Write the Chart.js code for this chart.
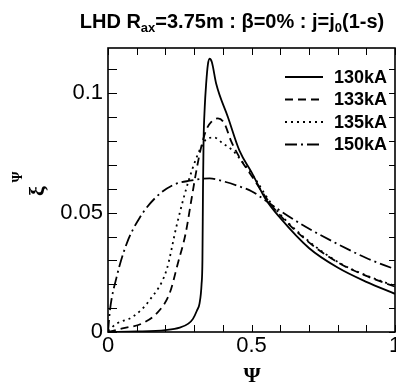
<!DOCTYPE html>
<html>
<head>
<meta charset="utf-8">
<script src="https://cdn.jsdelivr.net/npm/chart.js@4.4.1/dist/chart.umd.min.js"></script>
<style>
  html, body { margin: 0; padding: 0; background: #fff; }
  #wrap { width: 396px; height: 387px; }
</style>
</head>
<body>
<div id="wrap"><canvas id="myChart" width="396" height="387"></canvas></div>
<script>
// Werte
const seriesLabels = ["130kA", "133kA", "135kA", "150kA"];

const psi130 = [0, 0.1, 0.2, 0.25, 0.28, 0.296, 0.31, 0.319, 0.326, 0.329, 0.331, 0.333, 0.337, 0.342, 0.348, 0.354, 0.362, 0.377, 0.418, 0.458, 0.5, 0.55, 0.6, 0.7, 0.8, 0.9, 1.0];
const xi130 = [0, 0.0002, 0.0008, 0.0018, 0.0035, 0.0055, 0.009, 0.012, 0.02, 0.03, 0.06, 0.08, 0.094, 0.104, 0.112, 0.1145, 0.113, 0.104, 0.09, 0.076, 0.067, 0.0555, 0.0478, 0.0352, 0.027, 0.021, 0.016];

const psi133 = [0, 0.05, 0.123, 0.181, 0.215, 0.244, 0.27, 0.29, 0.31, 0.325, 0.342, 0.36, 0.383, 0.405, 0.429, 0.464, 0.5, 0.574, 0.69, 0.806, 0.9, 1.0];
const xi133 = [0, 0.0015, 0.0038, 0.0093, 0.0163, 0.029, 0.041, 0.055, 0.069, 0.0776, 0.0846, 0.088, 0.0895, 0.0875, 0.08, 0.072, 0.0655, 0.0525, 0.0386, 0.0288, 0.0235, 0.019];

const psi135 = [0, 0.03, 0.088, 0.146, 0.204, 0.238, 0.261, 0.285, 0.305, 0.325, 0.345, 0.37, 0.4, 0.435, 0.47, 0.5, 0.574, 0.69, 0.806, 0.9, 1.0];
const xi135 = [0.0005, 0.0035, 0.0065, 0.0135, 0.026, 0.044, 0.055, 0.065, 0.072, 0.0776, 0.081, 0.0815, 0.079, 0.076, 0.071, 0.0665, 0.053, 0.039, 0.029, 0.0237, 0.0193];

const psi150 = [0, 0.007, 0.03, 0.065, 0.111, 0.169, 0.227, 0.285, 0.354, 0.406, 0.458, 0.5, 0.55, 0.6, 0.69, 0.806, 0.9, 1.0];
const xi150 = [0, 0.0093, 0.023, 0.037, 0.048, 0.0567, 0.0616, 0.0634, 0.0644, 0.063, 0.061, 0.059, 0.055, 0.0508, 0.044, 0.0365, 0.031, 0.0263];

const xTickValues = [0, 0.5, 1];
const yTickValues = [0, 0.05, 0.1];

function toPoints(xs, ys) {
  return xs.map((x, i) => ({ x: x, y: ys[i] }));
}

function lineSet(label, xs, ys, dash) {
  return {
    label: label,
    data: toPoints(xs, ys),
    borderColor: "#000",
    borderWidth: 1.8,
    borderDash: dash,
    pointRadius: 0,
    fill: false,
    cubicInterpolationMode: "monotone",
  };
}

// Rahmen mit nach innen zeigenden Ticks
const frameTicks = {
  id: "frameTicks",
  afterDatasetsDraw(chart) {
    const { ctx, chartArea: a, scales: { x, y } } = chart;
    ctx.save();
    ctx.strokeStyle = "#000";
    ctx.lineWidth = 1;
    ctx.beginPath();
    for (let i = 0; i <= 10; i++) {
      const px = Math.round(x.getPixelForValue(i / 10)) + 0.5;
      ctx.moveTo(px, a.bottom); ctx.lineTo(px, a.bottom - 7);
      ctx.moveTo(px, a.top); ctx.lineTo(px, a.top + 7);
    }
    for (let i = 0; i <= 11; i++) {
      const py = Math.round(y.getPixelForValue(i / 100)) + 0.5;
      ctx.moveTo(a.left, py); ctx.lineTo(a.left + 9, py);
      ctx.moveTo(a.right, py); ctx.lineTo(a.right - 6, py);
    }
    ctx.stroke();
    ctx.lineWidth = 1.6;
    ctx.strokeRect(a.left, a.top, a.right - a.left, a.bottom - a.top);
    ctx.restore();
  },
};

// Legende oben rechts im Diagramm
const innerLegend = {
  id: "innerLegend",
  afterDraw(chart) {
    const ctx = chart.ctx;
    const rows = [77, 99.5, 122, 144.5];
    ctx.save();
    ctx.font = "bold 18px 'Liberation Sans', Arial, sans-serif";
    ctx.textBaseline = "middle";
    ctx.fillStyle = "#000";
    chart.data.datasets.forEach((ds, i) => {
      const yy = rows[i];
      ctx.strokeStyle = "#000";
      ctx.lineWidth = 1.8;
      ctx.setLineDash(ds.borderDash || []);
      ctx.beginPath();
      ctx.moveTo(285, yy); ctx.lineTo(323, yy);
      ctx.stroke();
      ctx.setLineDash([]);
      ctx.fillText(ds.label, 334, yy + 1);
    });
    ctx.restore();
  },
};

// Titel und Achsentitel
const titles = {
  id: "titles",
  afterDraw(chart) {
    const ctx = chart.ctx;
    const big = "bold 20px 'Liberation Sans', Arial, sans-serif";
    const small = "bold 13px 'Liberation Sans', Arial, sans-serif";
    const parts = [
      ["LHD R", 0], ["ax", 1], ["=3.75m : \u03b2=0% : j=j", 0], ["0", 1], ["(1-s)", 0],
    ];
    ctx.save();
    ctx.fillStyle = "#000";
    ctx.textBaseline = "alphabetic";
    let w = 0;
    parts.forEach(([t, s]) => { ctx.font = s ? small : big; w += ctx.measureText(t).width; });
    let xx = 232 - w / 2;
    parts.forEach(([t, s]) => {
      ctx.font = s ? small : big;
      ctx.fillText(t, xx, s ? 32 : 28);
      xx += ctx.measureText(t).width;
    });

    ctx.font = "bold 22px 'Liberation Serif', 'DejaVu Serif', serif";
    ctx.textAlign = "center";
    ctx.textBaseline = "middle";
    ctx.fillText("\u03a8", 252, 376);

    ctx.translate(38, 191);
    ctx.rotate(-Math.PI / 2);
    ctx.font = "bold 22px 'Liberation Serif', 'DejaVu Serif', serif";
    ctx.fillText("\u03be", 0, 0);
    ctx.font = "bold 14px 'Liberation Serif', 'DejaVu Serif', serif";
    ctx.fillText("\u03a8", 14, -20);
    ctx.restore();
  },
};

const ctx = document.getElementById("myChart").getContext("2d");
const myChart = new Chart(ctx, {
  type: "line",
  data: {
    datasets: [
      lineSet(seriesLabels[0], psi130, xi130, []),
      lineSet(seriesLabels[1], psi133, xi133, [8, 5]),
      lineSet(seriesLabels[2], psi135, xi135, [2, 4]),
      lineSet(seriesLabels[3], psi150, xi150, [12, 4, 2, 4]),
    ],
  },
  options: {
    responsive: false,
    animation: false,
    devicePixelRatio: 1,
    layout: { padding: { top: 48, right: 1, left: 0, bottom: 0 } },
    plugins: {
      legend: { display: false },
      title: { display: false },
      tooltip: { enabled: false },
    },
    scales: {
      x: {
        type: "linear",
        min: 0,
        max: 1,
        grid: { display: false, drawTicks: false, tickLength: 0 },
        border: { display: false },
        afterBuildTicks: (s) => { s.ticks = xTickValues.map((v) => ({ value: v })); },
        afterFit: (s) => { s.height = 55; s.paddingLeft = 0; s.paddingRight = 0; },
        ticks: {
          color: "#000",
          padding: 1,
          maxRotation: 0,
          autoSkip: false,
          font: { family: "'Liberation Sans', Arial, sans-serif", size: 22 },
          callback: (v) => String(+Number(v).toFixed(2)),
        },
      },
      y: {
        type: "linear",
        min: 0,
        max: 0.119,
        grid: { display: false, drawTicks: false, tickLength: 0 },
        border: { display: false },
        afterBuildTicks: (s) => { s.ticks = yTickValues.map((v) => ({ value: v })); },
        afterFit: (s) => { s.width = 108; s.paddingTop = 0; s.paddingBottom = 0; },
        ticks: {
          color: "#000",
          padding: 5,
          autoSkip: false,
          font: { family: "'Liberation Sans', Arial, sans-serif", size: 22 },
          callback: (v) => String(+Number(v).toFixed(3)),
        },
      },
    },
  },
  plugins: [frameTicks, innerLegend, titles],
});
</script>
</body>
</html>
